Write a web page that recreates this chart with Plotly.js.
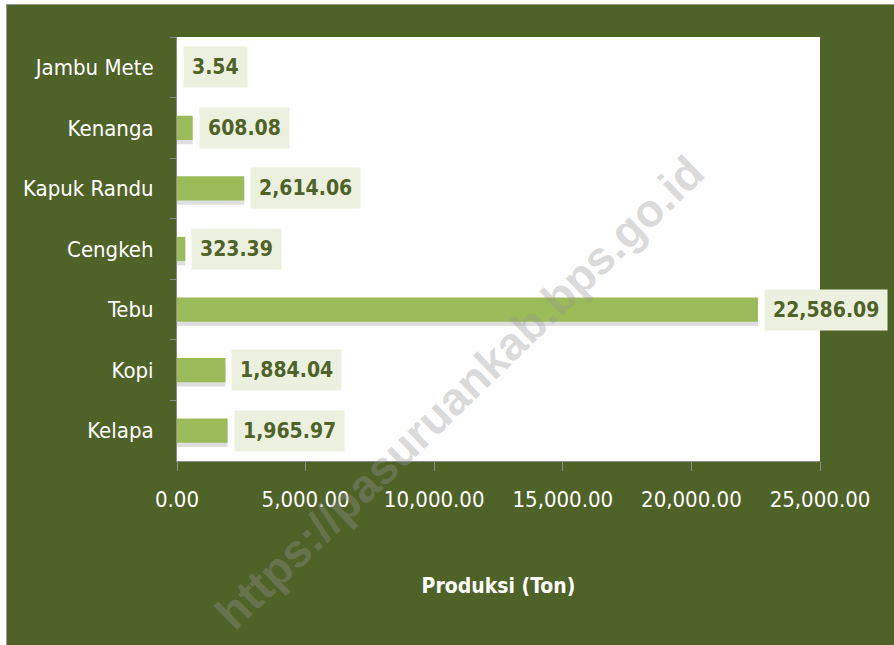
<!DOCTYPE html>
<html>
<head>
<meta charset="utf-8">
<script src="https://cdn.plot.ly/plotly-3.0.1.min.js"></script>
<style>
  html, body { margin: 0; padding: 0; background: #ffffff; width: 894px; height: 645px; overflow: hidden; }
  #wrap { position: absolute; left: 6px; top: 4px; border-top: 1px solid #9a9a9a; border-left: 1px solid #9a9a9a; }
  #chart { width: 887px; height: 640px; }
</style>
</head>
<body>
<div id="wrap"><div id="chart"></div></div>
<script>
// Data
var categories = ["Jambu Mete", "Kenanga", "Kapuk Randu", "Cengkeh", "Tebu", "Kopi", "Kelapa"];
var produksi = [3.54, 608.08, 2614.06, 323.39, 22586.09, 1884.04, 1965.97];
var valueLabels = ["3.54", "608.08", "2,614.06", "323.39", "22,586.09", "1,884.04", "1,965.97"];
var xTickValues = [0, 5000, 10000, 15000, 20000, 25000];
var xTickLabels = ["0.00", "5,000.00", "10,000.00", "15,000.00", "20,000.00", "25,000.00"];
var axisTitle = "Produksi (Ton)";
var watermark = "https://pasuruankab.bps.go.id";

var FONT = "'DejaVu Sans Condensed', 'Liberation Sans Narrow', 'Arial Narrow', sans-serif";
var GREEN_BG = "#4F6228";

var shadow = {
  type: "bar", orientation: "h",
  x: produksi, y: categories,
  width: 0.4, offset: -0.13,
  marker: { color: "rgba(0,0,0,0.13)", line: { width: 0 } },
  hoverinfo: "skip", showlegend: false
};
var bars = {
  type: "bar", orientation: "h",
  x: produksi, y: categories,
  width: 0.4, offset: -0.2,
  marker: { color: "#9BBB59", line: { width: 0 } },
  showlegend: false
};

var annotations = categories.map(function (c, i) {
  return {
    x: produksi[i], y: c, xref: "x", yref: "y",
    text: "<b>" + valueLabels[i] + "</b>",
    showarrow: false, xanchor: "left", yanchor: "middle", xshift: 6,
    bgcolor: "#EBF1DE", borderpad: 8,
    font: { family: FONT, size: 21, color: "#4F6228" }
  };
});
annotations.push({
  xref: "paper", yref: "paper", x: 0.44, y: 0.163,
  text: "<b>" + watermark + "</b>", showarrow: false, textangle: -44,
  xanchor: "center", yanchor: "middle",
  font: { family: "'Liberation Sans', Arial, sans-serif", size: 46, color: "rgba(150,150,150,0.36)" }
});

var layout = {
  width: 887, height: 640,
  margin: { l: 170, r: 74, t: 32, b: 184 },
  paper_bgcolor: GREEN_BG, plot_bgcolor: "#ffffff",
  barmode: "overlay",
  xaxis: {
    range: [0, 25000], tickvals: xTickValues, ticktext: xTickLabels,
    showgrid: false, zeroline: false,
    showline: true, linecolor: "#8c8c8c", linewidth: 1,
    ticks: "outside", ticklen: 9, tickcolor: "#8c8c8c",
    tickfont: { family: FONT, size: 22, color: "#ffffff" },
    ticklabelstandoff: 10,
    title: { text: "<b>" + axisTitle + "</b>", font: { family: FONT, size: 21, color: "#ffffff" }, standoff: 66 }
  },
  yaxis: {
    type: "category", autorange: "reversed",
    showgrid: false, zeroline: false,
    showline: true, linecolor: "#8c8c8c", linewidth: 1,
    ticks: "outside", ticklen: 6, tickcolor: "#8c8c8c", tickson: "boundaries",
    tickfont: { family: FONT, size: 22, color: "#ffffff" },
    ticklabelstandoff: 18
  },
  annotations: annotations
};

Plotly.newPlot("chart", [shadow, bars], layout, { displayModeBar: false, staticPlot: true });
</script>
</body>
</html>
